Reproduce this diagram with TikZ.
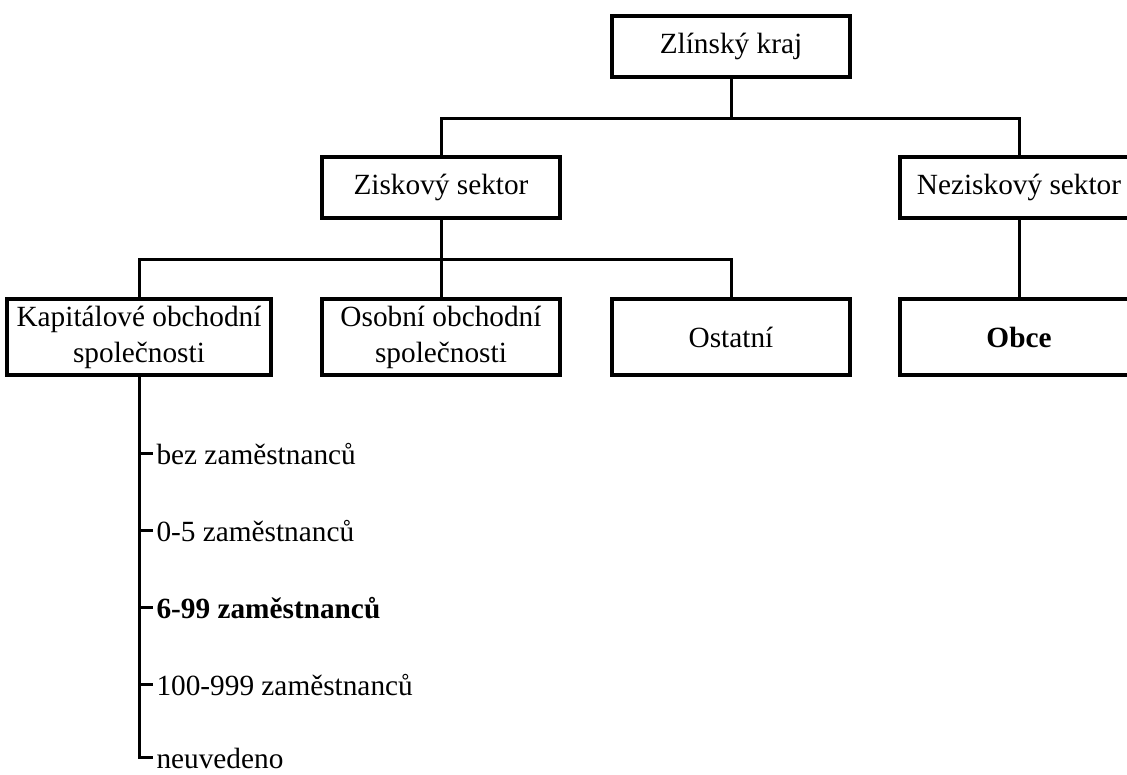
\documentclass[tikz,border=0pt]{standalone}
\usepackage{fontspec}
\setmainfont{Liberation Serif}

\begin{document}
\begin{tikzpicture}[x=1pt, y=-1pt, line width=3pt,
    every node/.style={font=\fontsize{29.3}{36}\selectfont},
    box/.style={draw, line width=3.3pt, minimum width=238pt, minimum height=61pt,
      inner sep=0pt, align=center},
    tallbox/.style={box, minimum height=76pt},
    item/.style={anchor=west, inner xsep=2pt, inner ysep=0pt,
      text height=22pt, text depth=0pt}]
  \useasboundingbox (0,0) rectangle (1127,774);
  % Top and sectors
  \node[box] (kraj) at (731,46.5) {Zlínský kraj};
  \node[box] (zisk) at (441,187.5) {Ziskový sektor};
  \node[box] (nezisk) at (1019,187.5) {Neziskový sektor};
  % Bottom row
  \node[tallbox, minimum width=264pt] (kap) at (139,337) {Kapitálové obchodní\\společnosti};
  \node[tallbox] (osob) at (441,337) {Osobní obchodní\\společnosti};
  \node[tallbox] (ost) at (731,337) {Ostatní};
  \node[tallbox] (obce) at (1019,337) {\textbf{Obce}};
  % Connectors
  \draw (kraj.south) -- ++(0,40) -| (zisk.north);
  \draw (kraj.south) -- ++(0,40) -| (nezisk.north);
  \foreach \n in {kap,osob,ost}
    \draw (zisk.south) -- ++(0,40) -| (\n.north);
  \draw (nezisk.south) -- (obce.north);
  % Employee size list
  \foreach \y/\txt [count=\i] in {453/bez zaměstnanců, 530/0-5 zaměstnanců,
      607/\textbf{6-99 zaměstnanců}, 684/100-999 zaměstnanců, 757/neuvedeno}
    \node[item] (emp\i) at (153,\y) {\txt};
  \draw (kap.south) -- (kap.south |- emp5.west) -- (emp5.west);
  \foreach \i in {1,...,4}
    \draw (kap.south |- emp\i.west) -- (emp\i.west);
\end{tikzpicture}
\end{document}
